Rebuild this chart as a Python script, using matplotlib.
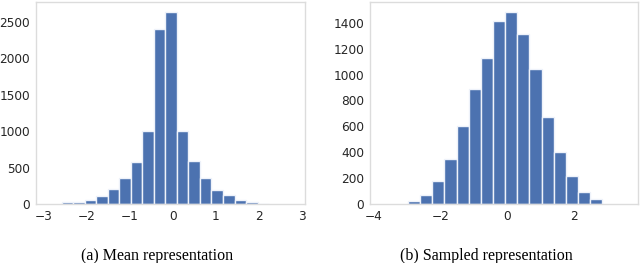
import numpy as np
import matplotlib
matplotlib.use("Agg")
import matplotlib.pyplot as plt

# Left panel: mean representation histogram
mean_edges_start = -2.57
mean_bin_width = 0.267
mean_counts = [27, 27, 55, 105, 201, 352, 577, 998, 2399, 2642,
               998, 586, 362, 192, 128, 55, 27, 0]

# Right panel: sampled representation histogram
samp_edges_start = -2.96
samp_bin_width = 0.363
samp_counts = [23, 67, 178, 345, 600, 888, 1127, 1415, 1485, 1310,
               1042, 669, 399, 214, 90, 39]

captions = ["(a) Mean representation", "(b) Sampled representation"]
left_xticks = [-3, -2, -1, 0, 1, 2, 3]
right_xticks = [-4, -2, 0, 2]
left_yticks = [0, 500, 1000, 1500, 2000, 2500]
right_yticks = [0, 200, 400, 600, 800, 1000, 1200, 1400]

plt.rcParams['font.family'] = ['DejaVu Sans']

fig = plt.figure(figsize=(6.4, 2.63), dpi=100)
bar_color = '#4c72b0'
spine_color = '#dcdcdc'
text_color = '#262626'


def draw(ax, start, width, counts, xticks, yticks, xlim, ylim):
    n = len(counts)
    edges = start + width * np.arange(n + 1)
    ax.hist(edges[:-1], bins=edges, weights=counts, color=bar_color,
            edgecolor='#eef2fa', linewidth=1.0)
    ax.set_xlim(*xlim)
    ax.set_ylim(*ylim)
    ax.set_xticks(xticks)
    ax.set_yticks(yticks)
    ax.set_xticklabels([str(t).replace('-', '\u2212') for t in xticks])
    ax.tick_params(length=0, labelsize=8.7, labelcolor=text_color)
    ax.tick_params(axis='y', pad=4.3)
    ax.tick_params(axis='x', pad=4.5)
    for s in ax.spines.values():
        s.set_color(spine_color)
        s.set_linewidth(1.0)
    ax.grid(False)
    ax.set_facecolor('white')


ax1 = fig.add_axes([36 / 640, 59 / 263, 269 / 640, 202 / 263])
draw(ax1, mean_edges_start, mean_bin_width, mean_counts, left_xticks,
     left_yticks, (-3.17, 3.07), (0, 2775))

ax2 = fig.add_axes([370 / 640, 59 / 263, 268 / 640, 202 / 263])
draw(ax2, samp_edges_start, samp_bin_width, samp_counts, right_xticks,
     right_yticks, (-4.1, 3.92), (0, 1560))

fig.text(157 / 640, 3.0 / 263, captions[0], ha='center', va='baseline',
         fontsize=11.5, family='Liberation Serif', color='black')
fig.text(486 / 640, 3.0 / 263, captions[1], ha='center', va='baseline',
         fontsize=11.5, family='Liberation Serif', color='black')

fig.savefig('out.png', dpi=100, facecolor='white')
